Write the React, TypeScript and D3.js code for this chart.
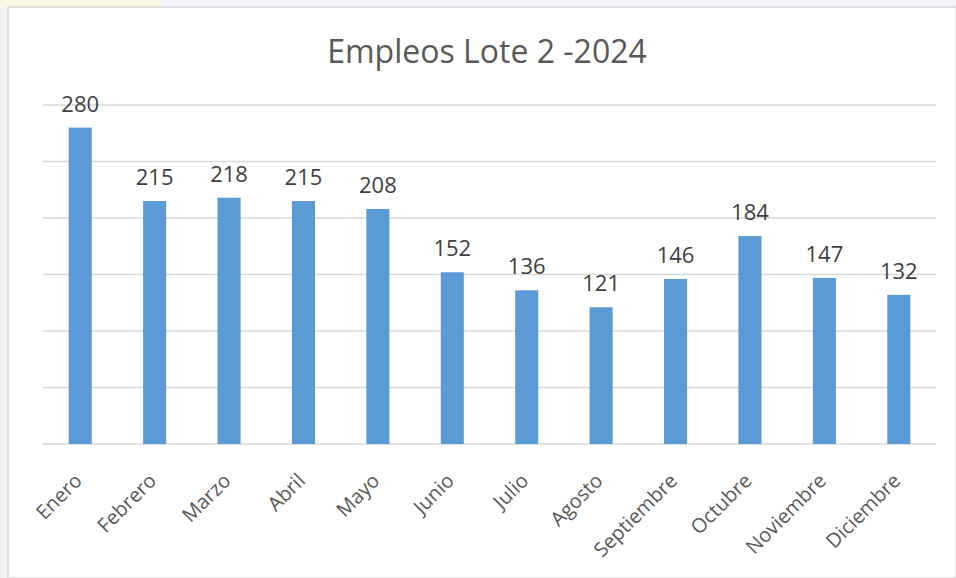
import React, { useEffect, useRef } from "react";
import * as d3 from "d3";

const months = [
  "Enero", "Febrero", "Marzo", "Abril", "Mayo", "Junio",
  "Julio", "Agosto", "Septiembre", "Octubre", "Noviembre", "Diciembre",
];
const empleos = [280, 215, 218, 215, 208, 152, 136, 121, 146, 184, 147, 132];
const gridTicks = [0, 50, 100, 150, 200, 250, 300];

const W = 956;
const H = 578;
const FONT = "'Open Sans', 'Noto Sans', sans-serif";

const App = () => {
  const ref = useRef<SVGSVGElement>(null);

  useEffect(() => {
    if (!ref.current) return;
    const svg = d3.select(ref.current);
    svg.selectAll("*").remove();

    // faded page background peeking above the chart box
    svg.append("rect").attr("x", 0).attr("y", 0).attr("width", W).attr("height", H).attr("fill", "#f4f4f8");
    svg.append("rect").attr("x", 0).attr("y", 0).attr("width", 160).attr("height", 8).attr("fill", "#fbf6e6");
    svg.append("rect").attr("x", 8).attr("y", 7).attr("width", W - 8).attr("height", H - 7)
      .attr("fill", "#ffffff").attr("stroke", "#d9d9d9").attr("stroke-width", 1.5);

    const x = d3.scaleBand().domain(months).range([43, 936]).paddingInner(0.69).paddingOuter(0.345);
    const y = d3.scaleLinear().domain([0, 300]).range([444, 105]);

    const g = svg.append("g");

    g.selectAll("line.grid").data(gridTicks).enter().append("line")
      .attr("class", "grid")
      .attr("x1", 43).attr("x2", 936)
      .attr("y1", (d) => y(d)).attr("y2", (d) => y(d))
      .attr("stroke", "#d9d9d9").attr("stroke-width", 1.5);

    g.selectAll("rect.bar").data(empleos).enter().append("rect")
      .attr("class", "bar")
      .attr("x", (_, i) => x(months[i]) as number)
      .attr("width", x.bandwidth())
      .attr("y", (d) => y(d))
      .attr("height", (d) => y(0) - y(d))
      .attr("fill", "#5b9bd5");

    g.selectAll("text.val").data(empleos).enter().append("text")
      .attr("class", "val")
      .attr("x", (_, i) => (x(months[i]) as number) + x.bandwidth() / 2)
      .attr("y", (d) => y(d) - 16)
      .attr("text-anchor", "middle")
      .attr("font-family", FONT).attr("font-size", 22).attr("fill", "#404040")
      .text((d) => d);

    g.selectAll("text.cat").data(months).enter().append("text")
      .attr("class", "cat")
      .attr("transform", (d) => {
        const cx = (x(d) as number) + x.bandwidth() / 2 + 3;
        return `translate(${cx},${482}) rotate(-45)`;
      })
      .attr("text-anchor", "end")
      .attr("font-family", FONT).attr("font-size", 20).attr("fill", "#595959")
      .text((d) => d);

    svg.append("text")
      .attr("x", 487).attr("y", 63)
      .attr("text-anchor", "middle")
      .attr("font-family", FONT).attr("font-size", 32).attr("fill", "#595959")
      .text("Empleos Lote 2 -2024");
  }, []);

  return (
    <svg ref={ref} width={W} height={H} style={{ position: "absolute", left: 0, top: 0 }} />
  );
};

export default App;
